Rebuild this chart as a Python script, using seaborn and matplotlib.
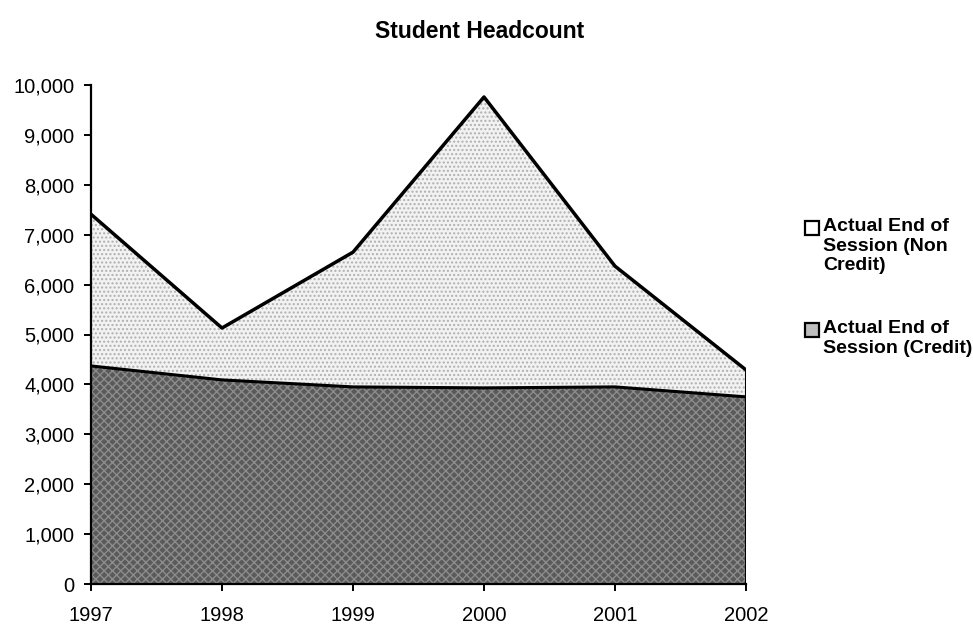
import matplotlib
matplotlib.use("Agg")
import matplotlib.pyplot as plt
import seaborn as sns
import pandas as pd
from matplotlib.patches import Rectangle
from matplotlib.ticker import FuncFormatter

years = [1997, 1998, 1999, 2000, 2001, 2002]
credit = [4370, 4090, 3950, 3930, 3950, 3750]
non_credit = [3040, 1040, 2700, 5830, 2420, 540]
series_names = ["Actual End of\nSession (Non\nCredit)", "Actual End of\nSession (Credit)"]
title = "Student Headcount"

total = [c + n for c, n in zip(credit, non_credit)]
df = pd.DataFrame({"year": years, "credit": credit, "total": total})

sns.set_theme(style="white")
plt.rcParams["font.family"] = ["Liberation Sans", "DejaVu Sans"]
plt.rcParams["text.color"] = "black"

W, H = 973, 627
fig = plt.figure(figsize=(W/100, H/100), dpi=100)
ax = fig.add_axes([91/W, 1-584/H, (746-91)/W, (584-85)/H])

ax.fill_between(df["year"], 0, df["credit"], facecolor="#5a5a5a", edgecolor="#8c8c8c",
                hatch="xxxx", linewidth=0, zorder=1)
ax.fill_between(df["year"], df["credit"], df["total"], facecolor="#f2f2f2", edgecolor="#b0b0b0",
                hatch="....", linewidth=0, zorder=1)
sns.lineplot(data=df, x="year", y="credit", color="black", linewidth=2.2, ax=ax, zorder=3)
sns.lineplot(data=df, x="year", y="total", color="black", linewidth=2.5, ax=ax, zorder=3)
ax.plot([years[-1], years[-1]], [0, total[-1]], color="black", linewidth=2.2, zorder=3)

ax.set_xlim(years[0], years[-1])
ax.set_ylim(0, 10000)
ax.set_xticks(years)
ax.set_yticks(range(0, 10001, 1000))
ax.yaxis.set_major_formatter(FuncFormatter(lambda v, p: f"{int(v):,}"))
ax.set_xlabel("")
ax.set_ylabel("")
for s in ["top", "right"]:
    ax.spines[s].set_visible(False)
for s in ["left", "bottom"]:
    ax.spines[s].set_color("black")
    ax.spines[s].set_linewidth(1.6)
ax.tick_params(axis="both", which="major", direction="out", length=5, width=1.4,
               color="black", labelsize=14.5, labelcolor="black",
               left=True, bottom=True)
ax.tick_params(axis="y", pad=7)
ax.tick_params(axis="x", pad=11)

fig.text(480/W, 1-32/H, title, ha="center", va="center", fontsize=16.5, fontweight="bold",
         color="black")

# legend
entries = [(228, series_names[0], "white"), (330, series_names[1], "#bdbdbd")]
for yc, label, fc in entries:
    fig.patches.append(Rectangle(((805)/W, 1-(yc+7)/H), 14/W, 14/H, transform=fig.transFigure,
                                 facecolor=fc, edgecolor="black", linewidth=1.6))
    fig.text(823/W, 1-(yc-10)/H, label, ha="left", va="top", fontsize=14, fontweight="bold",
             linespacing=1.2, color="black")

fig.savefig("out.png", dpi=100)
